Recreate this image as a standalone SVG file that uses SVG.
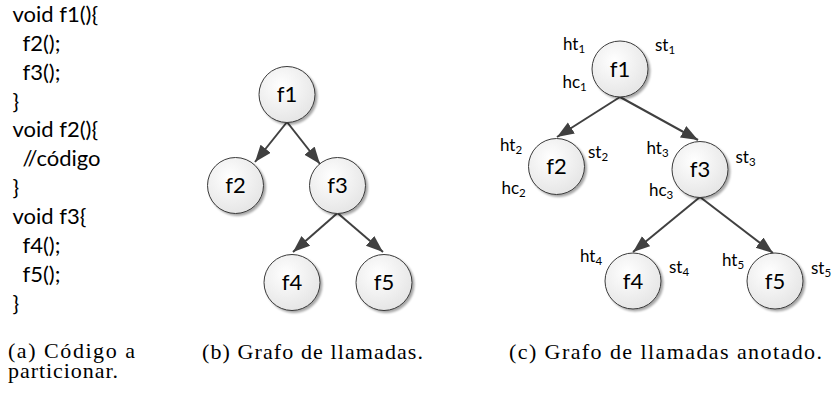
<svg xmlns="http://www.w3.org/2000/svg" width="833" height="394" viewBox="0 0 833 394">
<style>
.code{font-family:Lato,"Liberation Sans",sans-serif;font-size:22px;fill:#000}
.nl{font-family:Lato,"Liberation Sans",sans-serif;font-size:22px;fill:#000;text-anchor:middle}
.ann{font-family:Lato,"Liberation Sans",sans-serif;font-size:17px;fill:#000}
.sub{font-size:11.5px}
.cap{font-family:"Liberation Serif","Times New Roman",serif;font-size:22px;fill:#000}
.node circle{fill:url(#g);stroke:#3a3a3a;stroke-width:1;filter:url(#sh)}
.edge{stroke:#404040;stroke-width:2;fill:none;marker-end:url(#ah)}
</style>
<defs>
<radialGradient id="g" cx="0.4" cy="0.35" r="0.7">
<stop offset="0" stop-color="#ffffff"/>
<stop offset="1" stop-color="#e4e4e4"/>
</radialGradient>
<filter id="sh" x="-30%" y="-30%" width="160%" height="160%">
<feDropShadow dx="2" dy="2" stdDeviation="1.2" flood-color="#000" flood-opacity="0.35"/>
</filter>
<marker id="ah" markerUnits="userSpaceOnUse" markerWidth="18" markerHeight="14" refX="17" refY="6.5" orient="auto">
<path d="M0,0 L17,6.5 L0,13 z" fill="#404040"/>
</marker>
</defs>

<g id="code">
<text class="code" x="12.5" y="22">void f1(){</text>
<text class="code" x="22.5" y="51">f2();</text>
<text class="code" x="22.5" y="80">f3();</text>
<text class="code" x="12.5" y="109">}</text>
<text class="code" x="12.5" y="137">void f2(){</text>
<text class="code" x="22.5" y="166">//código</text>
<text class="code" x="12.5" y="195">}</text>
<text class="code" x="12.5" y="224">void f3{</text>
<text class="code" x="22.5" y="253">f4();</text>
<text class="code" x="22.5" y="282">f5();</text>
<text class="code" x="12.5" y="311">}</text>
</g>

<g id="connectors">
<line class="edge" x1="287" y1="122" x2="255" y2="162"/>
<line class="edge" x1="287" y1="122" x2="320" y2="164"/>
<line class="edge" x1="337.5" y1="213" x2="293" y2="252"/>
<line class="edge" x1="337.5" y1="213" x2="383" y2="252"/>
<line class="edge" x1="620" y1="97" x2="557" y2="137"/>
<line class="edge" x1="620" y1="97" x2="698" y2="140"/>
<line class="edge" x1="700" y1="197" x2="633" y2="252"/>
<line class="edge" x1="700" y1="197" x2="773" y2="253"/>
</g>

<g id="b-f1" class="node"><circle cx="287" cy="94.5" r="28"/><text class="nl" x="287" y="102">f1</text></g>
<g id="b-f2" class="node"><circle cx="235.5" cy="185.5" r="28"/><text class="nl" x="235.5" y="193">f2</text></g>
<g id="b-f3" class="node"><circle cx="337.5" cy="185.5" r="28"/><text class="nl" x="337.5" y="193">f3</text></g>
<g id="b-f4" class="node"><circle cx="292" cy="282.5" r="28"/><text class="nl" x="292" y="290">f4</text></g>
<g id="b-f5" class="node"><circle cx="384" cy="282.5" r="28"/><text class="nl" x="384" y="290">f5</text></g>

<g id="c-f1" class="node"><circle cx="620" cy="69" r="28"/><text class="nl" x="620" y="76.5">f1</text></g>
<g id="c-f2" class="node"><circle cx="556.5" cy="166.5" r="28"/><text class="nl" x="556.5" y="174">f2</text></g>
<g id="c-f3" class="node"><circle cx="700" cy="169.5" r="28"/><text class="nl" x="700" y="177">f3</text></g>
<g id="c-f4" class="node"><circle cx="633" cy="281" r="28"/><text class="nl" x="633" y="288.5">f4</text></g>
<g id="c-f5" class="node"><circle cx="775" cy="281" r="28"/><text class="nl" x="775" y="288.5">f5</text></g>

<g id="annotations">
<text class="ann" x="563" y="50">ht<tspan class="sub" dy="3">1</tspan></text>
<text class="ann" x="655" y="51">st<tspan class="sub" dy="3">1</tspan></text>
<text class="ann" x="562.5" y="88">hc<tspan class="sub" dy="3">1</tspan></text>
<text class="ann" x="500" y="151">ht<tspan class="sub" dy="3">2</tspan></text>
<text class="ann" x="588" y="158">st<tspan class="sub" dy="3">2</tspan></text>
<text class="ann" x="501.5" y="194">hc<tspan class="sub" dy="3">2</tspan></text>
<text class="ann" x="646.5" y="154">ht<tspan class="sub" dy="3">3</tspan></text>
<text class="ann" x="735.5" y="163">st<tspan class="sub" dy="3">3</tspan></text>
<text class="ann" x="649" y="196">hc<tspan class="sub" dy="3">3</tspan></text>
<text class="ann" x="580" y="261.5">ht<tspan class="sub" dy="3">4</tspan></text>
<text class="ann" x="669" y="272.5">st<tspan class="sub" dy="3">4</tspan></text>
<text class="ann" x="722" y="266">ht<tspan class="sub" dy="3">5</tspan></text>
<text class="ann" x="811" y="274">st<tspan class="sub" dy="3">5</tspan></text>
</g>

<g id="captions">
<text class="cap" x="8" y="358" textLength="127" lengthAdjust="spacing">(a) Código a</text>
<text class="cap" x="8" y="378" textLength="110" lengthAdjust="spacing">particionar.</text>
<text class="cap" x="202" y="359" textLength="221" lengthAdjust="spacing">(b) Grafo de llamadas.</text>
<text class="cap" x="509" y="359" textLength="313" lengthAdjust="spacing">(c) Grafo de llamadas anotado.</text>
</g>
</svg>
